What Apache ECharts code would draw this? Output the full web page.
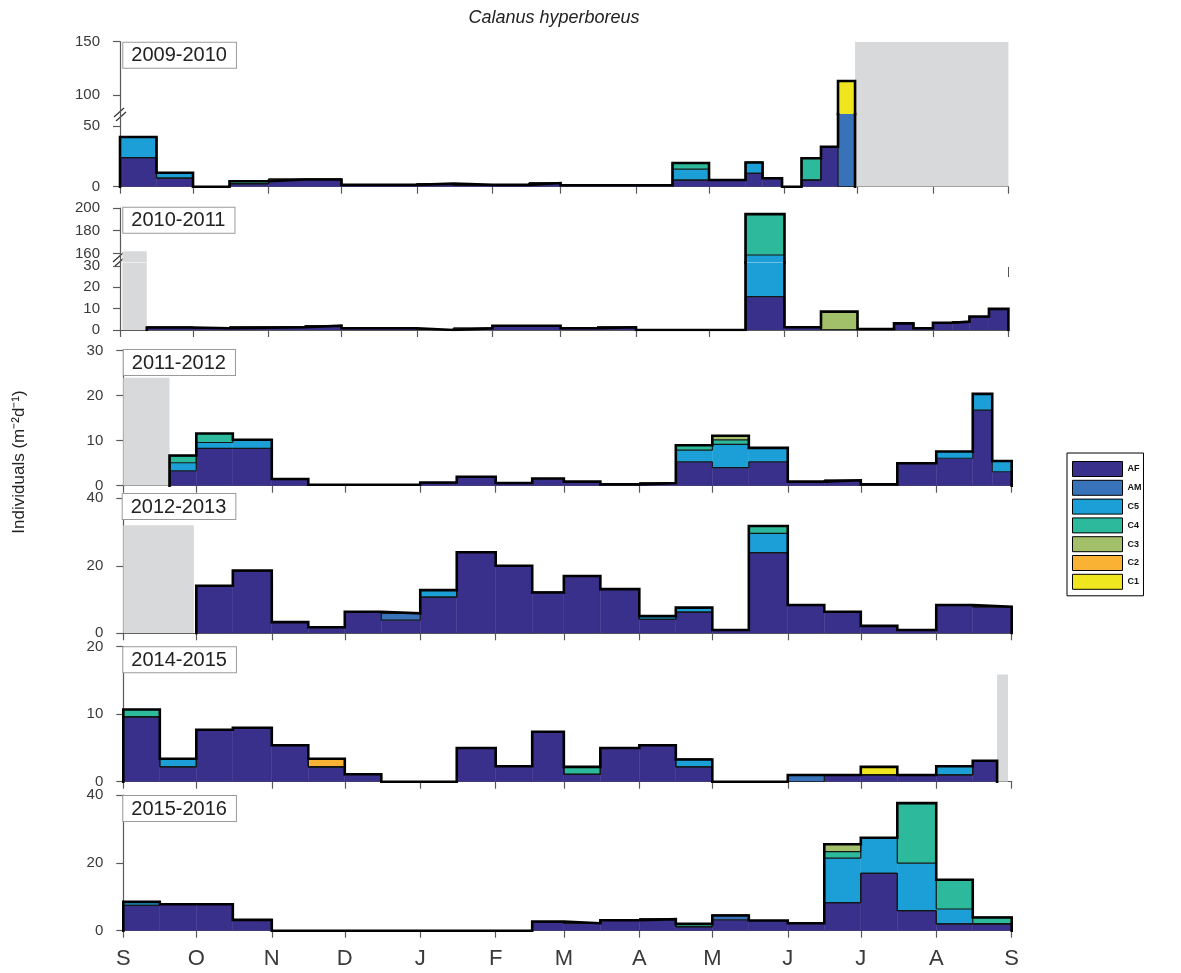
<!DOCTYPE html>
<html><head><meta charset="utf-8">
<script src="https://cdn.jsdelivr.net/npm/echarts@6/dist/echarts.min.js"></script>
<style>html,body{margin:0;padding:0;background:#fff}#c{width:1181px;height:973px}</style>
</head><body><div id="c"></div>
<script>
// ---------- DATA ----------
const STAGES = ['AF','AM','C5','C4','C3','C2','C1'];
const STAGE_COLORS = ['#38308a','#3872b8','#1b9fd6','#2cb99c','#a2bf6a','#f9b233','#f0e620'];
const MONTH_DAYS = [0,30,61,91,122,153,181,212,242,273,303,334,365];
const MONTH_LABELS = ['S','O','N','D','J','F','M','A','M','J','J','A','S'];
const YEARS = ['2009-2010','2010-2011','2011-2012','2012-2013','2014-2015','2015-2016'];
const HALF_MONTH = [0,15,30,45,61,76,91,106,122,137,153,168,181,196,212,227,242,257,273,288,303,318,334,349,365];

// 2009-2010 (days since 1 Sep)
const p1Edges = [0,15,30,45,61,76,91,106,122,137,153,168,181,196,212,227,242,257,264,272,280,288,295,302];
const p1AF = [24,7,0,2.5,6,6,1.5,1.5,2.5,1.5,1.5,3,1.2,1.2,1.2,5.5,5.5,11,7,0,5.5,33,0];
const p1AM = [0,0,0,0,0,0,0,0,0,0,0,0,0,0,0,0,0,0,0,0,0,0,80];
const p1C5 = [17,4.5,0,0,0,0,0,0,0,0,0,0,0,0,0,9,0,9,0,0,0,0,0];
const p1C4 = [0,0,0,2,0,0,0,0,0,0,0,0,0,0,0,5,0,0,0,0,18,0,0];
const p1C1 = [0,0,0,0,0,0,0,0,0,0,0,0,0,0,0,0,0,0,0,0,0,0,33];
const p1Gap = [302,365,150];

// 2010-2011
const p2Edges = [11,30,45,76,91,122,137,153,181,196,212,257,273,288,303,318,326,334,342,349,357,365];
const p2AF = [1.2,0.8,1.3,2,0.8,0,0.8,2,0.8,1.3,0,15.6,1.3,0,0.5,3.1,0.8,3.4,3.9,6.3,9.9];
const p2C5 = [0,0,0,0,0,0,0,0,0,0,0,143,0,0,0,0,0,0,0,0,0];
const p2C4 = [0,0,0,0,0,0,0,0,0,0,0,36,0,0,0,0,0,0,0,0,0];
const p2C3 = [0,0,0,0,0,0,0,0,0,0,0,0,0,8.6,0,0,0,0,0,0,0];
const p2Gap = [1,11,162];

// 2011-2012
const p3Edges = [19,30,45,61,76,122,137,153,168,181,196,212,227,242,257,273,288,303,318,334,349,357,365];
const p3AF = [3.3,8.3,8.3,1.5,0.2,0.7,2,0.6,1.6,0.9,0.3,0.6,5.3,4,5.3,0.9,1.2,0.3,5.0,6.1,16.8,3.1];
const p3C5 = [1.8,1.3,1.9,0,0,0,0,0,0,0,0,0,2.6,5.2,3.1,0,0,0,0,1.5,3.6,2.4];
const p3C4 = [1.6,2,0,0,0,0,0,0,0,0,0,0,1.1,1.0,0,0,0,0,0,0,0,0];
const p3C3 = [0,0,0,0,0,0,0,0,0,0,0,0,0,0.9,0,0,0,0,0,0,0,0];
const p3Gap = [0,19,24];

// 2012-2013
const p4Edges = [30,45,61,76,91,106,122,137,153,168,181,196,212,227,242,257,273,288,303,318,334,349,365];
const p4AF = [14.1,18.6,3.3,1.8,6.4,3.9,10.7,24,20,12.1,17,13.1,4.1,6.3,1.0,23.9,8.4,6.4,2.2,1.0,8.4,7.9];
const p4AM = [0,0,0,0,0,2,0,0,0,0,0,0,0,0,0,0,0,0,0,0,0,0];
const p4C5 = [0,0,0,0,0,0,2.1,0,0,0,0,0,1,1.3,0,5.7,0,0,0,0,0,0];
const p4C4 = [0,0,0,0,0,0,0,0,0,0,0,0,0,0,0,2.2,0,0,0,0,0,0];
const p4Gap = [0,29,32];

// 2014-2015
const p5Edges = [0,15,30,45,61,76,91,106,122,137,153,168,181,196,212,227,242,257,273,288,303,318,334,349,359];
const p5AF = [9.6,2.2,7.7,8.0,5.4,2.2,1.1,0,0,5.0,2.3,7.4,1.1,5.0,5.4,2.2,0,0,0,1.0,1.0,1.0,1.0,3.1];
const p5AM = [0,0,0,0,0,0,0,0,0,0,0,0,0,0,0,0,0,0,1.0,0,0,0,0,0];
const p5C5 = [0,1.2,0,0,0,0,0,0,0,0,0,0,0,0,0,1.1,0,0,0,0,0,0,1.3,0];
const p5C4 = [1.1,0,0,0,0,0,0,0,0,0,0,0,1.1,0,0,0,0,0,0,0,0,0,0,0];
const p5C2 = [0,0,0,0,0,1.2,0,0,0,0,0,0,0,0,0,0,0,0,0,0,0,0,0,0];
const p5C1 = [0,0,0,0,0,0,0,0,0,0,0,0,0,0,0,0,0,0,0,0,1.2,0,0,0];
const p5Gap = [359,363.5,15.9];

// 2015-2016
const p6Edges = HALF_MONTH;
const p6AF = [7.5,7.8,7.8,3.2,0,0,0,0,0,0,0,2.7,2.2,3.1,3.4,1.2,3.2,3.0,2.2,8.3,16.9,5.9,2.0,2.0];
const p6AM = [0,0,0,0,0,0,0,0,0,0,0,0,0,0,0,0,1.3,0,0,0,0,0,0,0];
const p6C5 = [1.0,0,0,0,0,0,0,0,0,0,0,0,0,0,0,0,0,0,0,13.1,10.5,14,4.4,0];
const p6C4 = [0,0,0,0,0,0,0,0,0,0,0,0,0,0,0,0.8,0,0,0,1.9,0,17.7,8.6,1.9];
const p6C3 = [0,0,0,0,0,0,0,0,0,0,0,0,0,0,0,0,0,0,0,2.2,0,0,0,0];

// ---------- ASSEMBLY ----------
const panels = [
  {edges:p1Edges, stages:{AF:p1AF, AM:p1AM, C5:p1C5, C4:p1C4, C1:p1C1}, gap:p1Gap},
  {edges:p2Edges, stages:{AF:p2AF, C5:p2C5, C4:p2C4, C3:p2C3}, gap:p2Gap},
  {edges:p3Edges, stages:{AF:p3AF, C5:p3C5, C4:p3C4, C3:p3C3}, gap:p3Gap},
  {edges:p4Edges, stages:{AF:p4AF, AM:p4AM, C5:p4C5, C4:p4C4}, gap:p4Gap},
  {edges:p5Edges, stages:{AF:p5AF, AM:p5AM, C5:p5C5, C4:p5C4, C2:p5C2, C1:p5C1}, gap:p5Gap},
  {edges:p6Edges, stages:{AF:p6AF, AM:p6AM, C5:p6C5, C4:p6C4, C3:p6C3}, gap:null}
];

// layout (pixels)
const W = 888.4;
const gridDefs = [
  {p:0, left:120,   top:41.7,  height:72.3,  min:82, max:150,  ticks:[100,150],     xShow:false},
  {p:0, left:120,   top:114,   height:72.7,  min:0,  max:60,   ticks:[0,50],        xShow:true},
  {p:1, left:120,   top:208,   height:54.5,  min:152,max:200,  ticks:[160,180,200], xShow:false},
  {p:1, left:120,   top:262.5, height:67.5,  min:0,  max:31.6, ticks:[0,10,20,30],  xShow:true},
  {p:2, left:123.3, top:350.7, height:135,   min:0,  max:30,   ticks:[0,10,20,30],  xShow:true},
  {p:3, left:123.3, top:498.3, height:135,   min:0,  max:40,   ticks:[0,20,40],     xShow:true},
  {p:4, left:123.3, top:646.7, height:135,   min:0,  max:20,   ticks:[0,10,20],     xShow:true},
  {p:5, left:123.3, top:795,   height:135.7, min:0,  max:40,   ticks:[0,20,40],     xShow:true, xLabels:true}
];
const yearBoxTops = [42.7, 207.7, 350, 494, 647.3, 796];
const yearBoxLefts = [123.3, 123.3, 123.8, 122.7, 123.3, 123.3];

const FONT = '"Liberation Sans", Arial, sans-serif';

const grid = [], xAxis = [], yAxis = [], series = [];

function stageRender(color, ymin, ymax) {
  return function (params, api) {
    const l = api.value(0), r = api.value(1), b = api.value(2), t = api.value(3), pt = api.value(4);
    const children = [];
    const lo = Math.max(b, ymin), hi = Math.min(t, ymax);
    if (hi > lo) {
      const a = api.coord([l, lo]), c = api.coord([r, hi]);
      children.push({type:'rect', shape:{x:a[0], y:c[1], width:c[0]-a[0], height:a[1]-c[1]},
        style:{fill:color, stroke:color, lineWidth:0.4}, z2:0});
    }
    if (t >= ymin && t <= ymax) {
      const a = api.coord([l, t]), c = api.coord([r, t]);
      children.push({type:'line', shape:{x1:a[0], y1:a[1], x2:c[0], y2:c[1]},
        style:{stroke:'#161616', lineWidth:1.2}, z2:10});
    }
    const vlo = Math.max(Math.min(pt, t), ymin), vhi = Math.min(Math.max(pt, t), ymax);
    if (vhi > vlo) {
      const a = api.coord([l, vlo]), c = api.coord([l, vhi]);
      children.push({type:'line', shape:{x1:a[0], y1:a[1], x2:c[0], y2:c[1]},
        style:{stroke:'#161616', lineWidth:1.2}, z2:10});
    }
    return {type:'group', children};
  };
}
function gapRender(ymin, ymax) {
  return function (params, api) {
    const l = api.value(0), r = api.value(1), t = api.value(2);
    const lo = Math.max(0, ymin), hi = Math.min(t, ymax);
    if (!(hi > lo)) return null;
    const a = api.coord([l, lo]), c = api.coord([r, hi]);
    return {type:'rect', shape:{x:a[0], y:c[1], width:c[0]-a[0], height:a[1]-c[1]}, style:{fill:'#d8d9db'}};
  };
}

gridDefs.forEach((g, gi) => {
  const P = panels[g.p];
  grid.push({left:g.left, top:g.top, width:W, height:g.height, containLabel:false});
  xAxis.push({
    type:'value', gridIndex:gi, min:0, max:365, show:g.xShow,
    axisLine:{show:true, onZero:false, lineStyle:{color:'#5a5a5a', width:1.2}},
    axisTick:{show:true, inside:false, length:7, customValues:MONTH_DAYS, lineStyle:{color:'#5a5a5a', width:1.2}},
    axisLabel:{show:!!g.xLabels, customValues:MONTH_DAYS, margin:17, fontSize:22, color:'#3a3a3a', fontFamily:FONT,
      formatter:(v) => MONTH_LABELS[MONTH_DAYS.indexOf(Math.round(v))] || ''},
    splitLine:{show:false}
  });
  yAxis.push({
    type:'value', gridIndex:gi, min:g.min, max:g.max,
    axisLine:{show:true, lineStyle:{color:'#5a5a5a', width:1.2}},
    axisTick:{show:true, inside:false, length:7, customValues:g.ticks, lineStyle:{color:'#5a5a5a', width:1.2}},
    axisLabel:{customValues:g.ticks, margin:20, fontSize:15, color:'#3a3a3a', fontFamily:FONT},
    splitLine:{show:false}
  });

  // gap (no data) region
  if (P.gap) {
    series.push({type:'custom', xAxisIndex:gi, yAxisIndex:gi, z:1, silent:true, clip:true,
      dimensions:['l','r','t'], encode:{x:[0,1], y:2},
      data:[P.gap], renderItem:gapRender(g.min, g.max)});
  }

  // stacked stages
  const n = P.edges.length - 1;
  const cum = new Array(n).fill(0);
  const totals = new Array(n).fill(0);
  STAGES.forEach((s) => { const arr = P.stages[s]; if (arr) for (let i = 0; i < n; i++) totals[i] += arr[i]; });
  STAGES.forEach((s, si) => {
    const arr = P.stages[s];
    if (!arr) return;
    const data = [];
    let prevTop = 0;
    for (let i = 0; i < n; i++) {
      const base = cum[i], top = base + arr[i];
      data.push([P.edges[i], P.edges[i+1], base, top, i === 0 ? 0 : prevTop]);
      prevTop = top;
      cum[i] = top;
    }
    series.push({type:'custom', name:s, xAxisIndex:gi, yAxisIndex:gi, z:2, silent:true, clip:true,
      itemStyle:{color:STAGE_COLORS[si]},
      dimensions:['l','r','b','t','pt'], encode:{x:[0,1], y:[2,3]},
      data, renderItem:stageRender(STAGE_COLORS[si], g.min, g.max)});
  });

  // outer outline (total)
  const env = [[P.edges[0], 0]];
  for (let i = 0; i < n; i++) { env.push([P.edges[i], totals[i]]); env.push([P.edges[i+1], totals[i]]); }
  env.push([P.edges[n], 0]);
  series.push({type:'line', xAxisIndex:gi, yAxisIndex:gi, z:3, silent:true, clip:true,
    data:env, showSymbol:false, symbol:'none',
    lineStyle:{color:'#000', width:2.6, join:'miter', cap:'square'}});
});

// decorative text / break marks
const graphic = [
  {type:'text', x:554, y:18, style:{text:'Calanus hyperboreus', font:'italic 18px ' + FONT, fill:'#222', align:'center', verticalAlign:'middle'}},
  {type:'text', x:19, y:462, rotation:Math.PI/2, style:{text:'Individuals (m\u207B\u00B2d\u207B\u00B9)', font:'17px ' + FONT, fill:'#222', align:'center', verticalAlign:'middle'}},
  {type:'line', shape:{x1:114, y1:117, x2:124, y2:108}, style:{stroke:'#333', lineWidth:1.2}},
  {type:'line', shape:{x1:116, y1:121, x2:126, y2:112}, style:{stroke:'#333', lineWidth:1.2}},
  {type:'line', shape:{x1:113, y1:262, x2:123, y2:253}, style:{stroke:'#333', lineWidth:1.2}},
  {type:'line', shape:{x1:115, y1:266, x2:125, y2:257}, style:{stroke:'#333', lineWidth:1.2}},
  {type:'line', shape:{x1:1008.5, y1:267, x2:1008.5, y2:277}, style:{stroke:'#555', lineWidth:1}}
];
YEARS.forEach((y, i) => {
  graphic.push({type:'text', x:yearBoxLefts[i], y:yearBoxTops[i], z:10,
    style:{text:y, font:'20px ' + FONT, fill:'#222', backgroundColor:'#fff', borderColor:'#9a9a9a', borderWidth:1,
      padding:[3,9,2,8], align:'left', verticalAlign:'top'}});
});

const option = {
  animation:false,
  backgroundColor:'#fff',
  grid, xAxis, yAxis, series, graphic,
  legend:{
    data:STAGES, orient:'vertical', left:1067, top:453, icon:'rect',
    itemWidth:50, itemHeight:15, itemGap:2.8, selectedMode:false,
    borderColor:'#000', borderWidth:1, padding:[8,2,6,5],
    itemStyle:{borderColor:'#000', borderWidth:1},
    textStyle:{fontSize:9, fontWeight:'bold', color:'#111', fontFamily:FONT}
  }
};
const chart = echarts.init(document.getElementById('c'), null, {renderer:'canvas'});
chart.setOption(option);
</script>
</body></html>
